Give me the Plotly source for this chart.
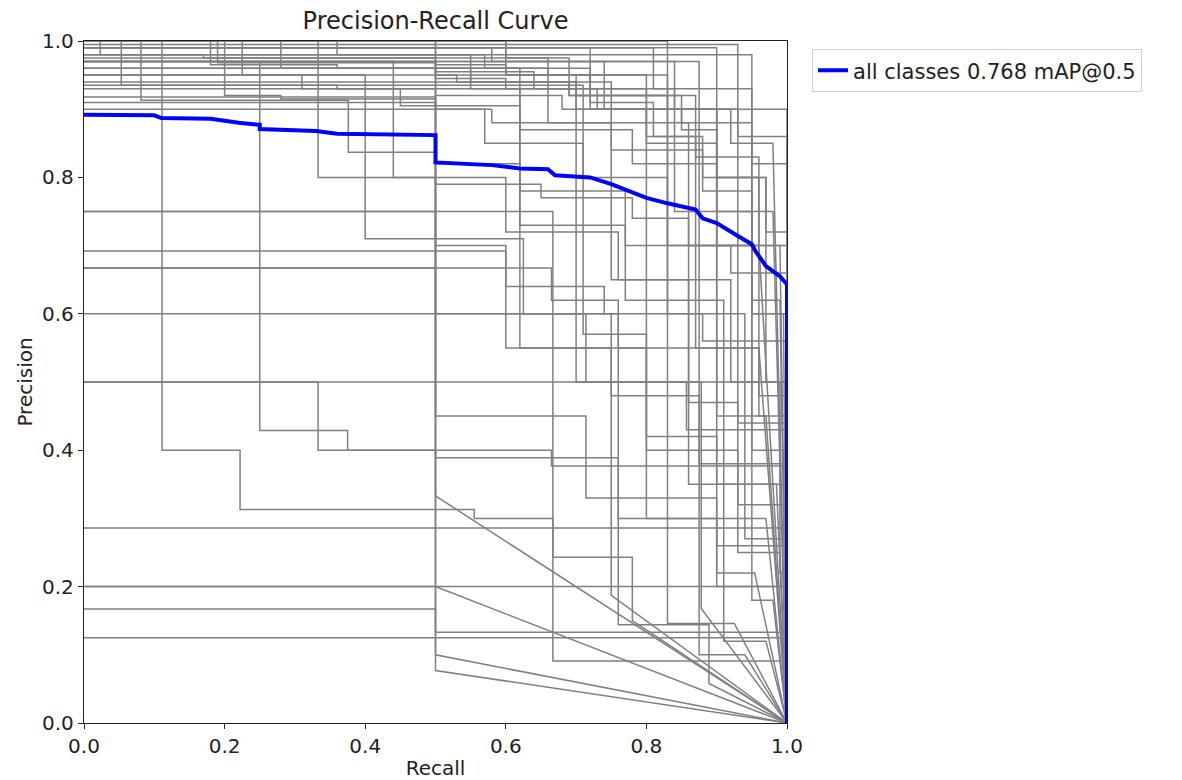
import plotly.graph_objects as go

# ---- data ----
# mean curve (all classes)
all_recall = [0.0, 0.10, 0.11, 0.18, 0.22, 0.25, 0.25, 0.33, 0.36, 0.50, 0.50, 0.58, 0.62,
              0.66, 0.67, 0.72, 0.75, 0.80, 0.83, 0.87, 0.88, 0.90, 0.93, 0.95, 0.955,
              0.97, 0.99, 1.0, 1.0]
all_precision = [0.892, 0.891, 0.887, 0.886, 0.880, 0.877, 0.871, 0.868, 0.864, 0.862, 0.822,
                 0.818, 0.813, 0.812, 0.803, 0.800, 0.790, 0.770, 0.762, 0.753, 0.740, 0.733,
                 0.714, 0.702, 0.692, 0.670, 0.655, 0.643, 0.0]

# per-class step curves: recall where each precision level ends, and the levels
class_recall = [
    [0.023, 0.17, 0.5, 0.6, 0.72, 0.84, 0.93, 1.0],
    [0.053, 0.36, 0.5, 0.68, 0.8, 0.88, 0.96, 1.0],
    [0.081, 0.376, 0.5, 0.62, 0.77, 0.9, 0.97],
    [0.18, 0.36, 0.55, 0.7, 0.85, 0.95, 1.0],
    [0.19, 0.5, 0.64, 0.73, 0.85, 0.9, 0.97, 1.0],
    [0.2, 0.28, 0.5, 0.58, 0.75, 0.88, 0.95, 0.99],
    [0.225, 0.31, 0.45, 0.62, 0.78, 0.9, 0.96],
    [0.111, 0.222, 0.555, 0.667, 1.0],
    [0.25, 0.375, 0.665, 1.0],
    [0.28, 0.5, 0.6, 0.7, 0.8, 0.9, 0.98],
    [0.333, 0.5, 0.65, 0.78, 0.86, 0.92, 1.0],
    [0.6, 0.74, 0.88, 1.0],
    [0.5, 0.5],
    [0.665, 0.76, 0.86, 0.93, 1.0],
    [0.5, 0.5],
    [1.0],
    [0.333, 0.5, 0.76, 0.9, 1.0],
    [1.0],
    [1.0],
    [0.5],
    [1.0],
    [0.5, 0.5],
    [0.5, 1.0],
    [0.62, 0.75, 0.75],
    [0.5, 0.667, 0.78, 0.78],
    [0.7, 0.878, 0.878],
    [0.76, 0.889, 0.889],
    [0.6, 0.83, 0.925],
    [0.72, 0.9, 0.954],
    [0.55, 0.8, 0.97],
    [0.66, 0.86, 0.985],
    [0.74, 0.93, 0.99],
    [0.81, 0.95, 0.995],
    [0.69, 0.87, 0.96, 1.0],
    [0.57, 0.71, 0.83, 0.95, 1.0],
    [0.44, 0.6, 0.76, 0.86, 0.96, 1.0],
    [0.667, 0.714, 0.857, 1.0],
    [0.5, 0.6, 0.8, 0.9, 1.0],
    [0.71, 0.8, 0.93, 1.0],
    [0.5, 0.714, 0.9, 1.0],
    [0.4, 0.625, 0.75, 0.875, 1.0],
    [0.83, 0.94, 1.0],
    [0.9, 0.97, 1.0],
    [0.75, 0.92, 0.99, 1.0],
    [0.62, 0.77, 0.91, 0.97],
    [0.84, 0.95, 0.98],
    [0.95, 0.995],
    [0.58, 0.875, 0.94],
    [0.93, 1.0],
    [0.5, 0.53, 0.69, 0.83, 0.9, 0.99],
    [0.36, 0.57, 0.72, 0.81, 0.87, 0.96],
    [0.6, 0.66, 0.8, 0.92, 0.98],
]
class_precision = [
    [1.0, 0.98, 0.975, 0.965, 0.95, 0.93, 0.9, 0.86],
    [1.0, 0.935, 0.93, 0.92, 0.9, 0.86, 0.8, 0.7],
    [1.0, 0.913, 0.837, 0.82, 0.78, 0.7, 0.45],
    [1.0, 0.965, 0.96, 0.94, 0.92, 0.88, 0.82],
    [1.0, 0.968, 0.955, 0.93, 0.9, 0.87, 0.8, 0.72],
    [1.0, 0.92, 0.915, 0.9, 0.88, 0.84, 0.78, 0.62],
    [1.0, 0.95, 0.93, 0.905, 0.87, 0.82, 0.7],
    [1.0, 0.4, 0.313, 0.3, 0.091],
    [0.97, 0.429, 0.4, 0.377],
    [1.0, 0.96, 0.945, 0.93, 0.9, 0.85, 0.75],
    [1.0, 0.8, 0.79, 0.77, 0.74, 0.7, 0.66],
    [0.692, 0.64, 0.6, 0.56],
    [0.667, 0.333],
    [0.667, 0.62, 0.55, 0.47, 0.44],
    [0.75, 0.1],
    [0.5],
    [0.5, 0.4, 0.389, 0.3, 0.2],
    [0.286],
    [0.2],
    [0.2],
    [0.125],
    [0.167, 0.077],
    [1.0, 0.133],
    [0.93, 0.55, 0.187],
    [0.97, 0.6, 0.243, 0.15],
    [0.95, 0.5, 0.168],
    [0.6, 0.144, 0.058],
    [1.0, 0.95, 0.146],
    [0.99, 0.9, 0.22],
    [0.98, 0.93, 0.3],
    [0.96, 0.88, 0.35],
    [0.97, 0.9, 0.25],
    [0.99, 0.93, 0.4],
    [0.975, 0.92, 0.83, 0.45],
    [0.9, 0.85, 0.8, 0.7, 0.6],
    [0.97, 0.8, 0.72, 0.65, 0.55, 0.48],
    [0.75, 0.6, 0.5, 0.43],
    [0.918, 0.7, 0.55, 0.42, 0.35],
    [0.935, 0.57, 0.4, 0.32],
    [0.91, 0.45, 0.33, 0.26],
    [0.95, 0.71, 0.6, 0.48, 0.38],
    [1.0, 0.6, 0.27],
    [0.99, 0.8, 0.5],
    [0.94, 0.65, 0.5, 0.22],
    [0.96, 0.73, 0.62, 0.12],
    [0.97, 0.75, 0.18],
    [0.98, 0.6],
    [0.99, 0.97, 0.1],
    [0.995, 0.9],
    [1.0, 0.95, 0.94, 0.92, 0.9, 0.7],
    [1.0, 0.98, 0.96, 0.91, 0.86, 0.55],
    [1.0, 0.975, 0.95, 0.9, 0.85],
]

legend_label = "all classes 0.768 mAP@0.5"
x_ticks = [0.0, 0.2, 0.4, 0.6, 0.8, 1.0]
y_ticks = [0.0, 0.2, 0.4, 0.6, 0.8, 1.0]


def step_xy(rec, prec):
    xs, ys = [0.0], [prec[0]]
    for i in range(len(rec)):
        xs.append(rec[i]); ys.append(prec[i])
        if i + 1 < len(prec):
            xs.append(rec[i]); ys.append(prec[i + 1])
    xs.append(1.0); ys.append(0.0)
    return xs, ys


fig = go.Figure()
for rec, prec in zip(class_recall, class_precision):
    xs, ys = step_xy(rec, prec)
    fig.add_trace(go.Scatter(x=xs, y=ys, mode="lines",
                             line=dict(color="rgb(128,128,128)", width=1.5),
                             showlegend=False, hoverinfo="skip"))

fig.add_trace(go.Scatter(x=all_recall, y=all_precision, mode="lines",
                         line=dict(color="blue", width=4), name=legend_label))

axis_common = dict(range=[0, 1], showgrid=False, zeroline=False, showline=True,
                   linecolor="#222", linewidth=1.3, mirror=True, ticks="outside",
                   ticklen=5, tickcolor="#222", tickformat=".1f", automargin=False,
                   tickfont=dict(size=20, color="#222"))

fig.update_layout(
    width=1182, height=780,
    margin=dict(l=84, r=395, t=41, b=57),
    paper_bgcolor="white", plot_bgcolor="white",
    font=dict(family="DejaVu Sans", color="#222"),
    title=dict(text="Precision-Recall Curve", x=(84 + 703 / 2) / 1182, xanchor="center",
               y=1 - 21 / 780, yanchor="middle", font=dict(size=24, color="#222")),
    xaxis=dict(axis_common, tickvals=x_ticks,
               title=dict(text="Recall", font=dict(size=20), standoff=4)),
    yaxis=dict(axis_common, tickvals=y_ticks,
               title=dict(text="Precision", font=dict(size=20), standoff=4)),
    legend=dict(x=1.0356, y=0.988, xanchor="left", yanchor="top",
                bgcolor="white", bordercolor="#d0d0d0", borderwidth=1,
                font=dict(size=21, color="#222")),
)

fig.write_html("out.html", config={"displayModeBar": False},
               post_script="document.body.style.margin='0';")
